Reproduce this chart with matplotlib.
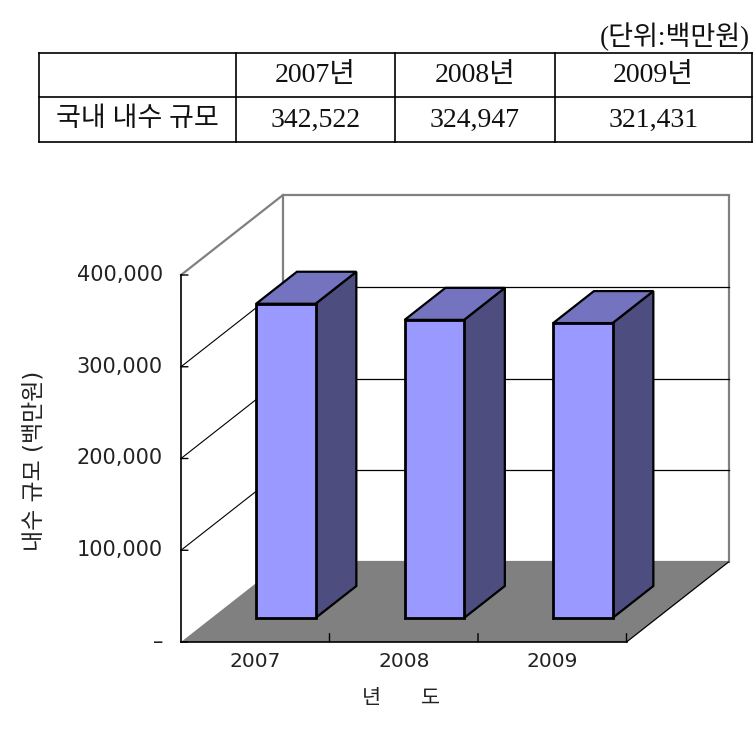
import matplotlib
matplotlib.use("Agg")
import matplotlib.pyplot as plt
from matplotlib.patches import Polygon

plt.rcParams['font.family'] = ['DejaVu Sans', 'Noto Sans CJK KR']

# data
years = ['2007', '2008', '2009']
values = [342522, 324947, 321431]
col_labels = ['2007년', '2008년', '2009년']
row_label = '국내 내수 규모'
unit_label = '(단위:백만원)'
y_ticks = [0, 100000, 200000, 300000, 400000]
y_label = '내수 규모 (백만원)'
x_label = '년      도'

W, H = 753, 734
fig = plt.figure(figsize=(W / 100, H / 100), dpi=100)

# ---- table at the top (pixel layout) ----
tax = fig.add_axes([0, 0, 1, 1])
tax.set_xlim(0, W)
tax.set_ylim(H, 0)
tax.axis('off')
col_x = [39, 236, 395, 555, 752]
row_y = [53, 97, 142]
for yy in row_y:
    tax.plot([col_x[0], col_x[-1]], [yy, yy], color='black', lw=1.2)
for xx in col_x:
    tax.plot([xx, xx], [row_y[0], row_y[-1]], color='black', lw=1.2)
tfont = ['Liberation Serif', 'Noto Sans CJK KR']
for i, lab in enumerate(col_labels):
    cx = (col_x[i + 1] + col_x[i + 2]) / 2
    tax.text(cx, (row_y[0] + row_y[1]) / 2 + 1, lab, ha='center', va='center',
             fontsize=20, family=tfont, color='#111111')
    tax.text(cx, (row_y[1] + row_y[2]) / 2 + 1, f'{values[i]:,}', ha='center', va='center',
             fontsize=20, family=tfont, color='#111111')
tax.text((col_x[0] + col_x[1]) / 2, (row_y[1] + row_y[2]) / 2, row_label, ha='center',
         va='center', fontsize=19.5, family=tfont, color='#111111')
tax.text(750, 37, unit_label, ha='right', va='center', fontsize=19.5, family=tfont,
         color='#111111')

# ---- pseudo 3D bar chart ----
ax = fig.add_axes([0, 0, 1, 1])
ax.axis('off')
x0_px, y0_px = 181, 642        # front origin in pixels
px_cat = 148.5                 # pixels per category
px_val = (642 - 275) / 400000  # pixels per value unit
ax.set_xlim(-x0_px / px_cat, (W - x0_px) / px_cat)
ax.set_ylim(-(H - y0_px) / px_val, y0_px / px_val)
DX = 102 / px_cat   # full depth shift
DY = 80 / px_val
ncat = len(years)
vmax = y_ticks[-1]


def proj(x, v, d):
    return (x + d * DX, v + d * DY)


# back wall
wall = Polygon([proj(0, 0, 1), proj(ncat, 0, 1), proj(ncat, vmax, 1), proj(0, vmax, 1)],
               closed=True, facecolor='white', edgecolor='#808080', lw=1.6, zorder=1)
ax.add_patch(wall)
# gridlines on back and side wall
for v in y_ticks[1:-1]:
    a, b = proj(0, v, 1), proj(ncat, v, 1)
    ax.plot([a[0], b[0]], [a[1], b[1]], color='black', lw=0.9, zorder=2)
    c = proj(0, v, 0)
    ax.plot([c[0], a[0]], [c[1], a[1]], color='black', lw=0.8, zorder=2)
c, a = proj(0, vmax, 0), proj(0, vmax, 1)
ax.plot([c[0], a[0]], [c[1], a[1]], color='#808080', lw=1.6, zorder=2)

# floor
floor = Polygon([proj(0, 0, 0), proj(ncat, 0, 0), proj(ncat, 0, 1), proj(0, 0, 1)],
                closed=True, facecolor='#808080', edgecolor='none', zorder=3)
ax.add_patch(floor)
a, b = proj(ncat, 0, 0), proj(ncat, 0, 1)
ax.plot([a[0], b[0]], [a[1], b[1]], color='black', lw=0.9, zorder=4)
ax.plot([0, ncat], [0, 0], color='black', lw=1.2, zorder=4)

# value axis
ax.plot([0, 0], [0, vmax], color='black', lw=1.2, zorder=4)
for v in y_ticks:
    ax.annotate('', xy=(0, v), xytext=(5, 0), textcoords='offset points',
                arrowprops=dict(arrowstyle='-', color='black', lw=1.0,
                                shrinkA=0, shrinkB=0))
    lab = '–' if v == 0 else f'{v:,}'
    ax.annotate(lab, xy=(0, v), xytext=(-13, 0), textcoords='offset points',
                ha='right', va='center', fontsize=15, color='#222222')

# category ticks and labels
for i in range(1, ncat + 1):
    ax.annotate('', xy=(i, 0), xytext=(0, 6), textcoords='offset points',
                arrowprops=dict(arrowstyle='-', color='black', lw=1.0,
                                shrinkA=0, shrinkB=0), zorder=5)
for i, yr in enumerate(years):
    ax.annotate(yr, xy=(i + 0.5, 0), xytext=(0, -14), textcoords='offset points',
                ha='center', va='center', fontsize=14.5, color='#222222')

# bars
bw = 0.4
d0, d1 = 0.3, 0.7
for i, v in enumerate(values):
    xl = i + 0.5 - bw / 2
    xr = i + 0.5 + bw / 2
    side = Polygon([proj(xr, 0, d0), proj(xr, 0, d1), proj(xr, v, d1), proj(xr, v, d0)],
                   closed=True, facecolor='#4D4D80', edgecolor='black', lw=1.6,
                   joinstyle='miter', zorder=6)
    top = Polygon([proj(xl, v, d0), proj(xr, v, d0), proj(xr, v, d1), proj(xl, v, d1)],
                  closed=True, facecolor='#7373BF', edgecolor='black', lw=1.6,
                  joinstyle='miter', zorder=6)
    front = Polygon([proj(xl, 0, d0), proj(xr, 0, d0), proj(xr, v, d0), proj(xl, v, d0)],
                    closed=True, facecolor='#9999FF', edgecolor='black', lw=2.0,
                    joinstyle='miter', zorder=7)
    ax.add_patch(side)
    ax.add_patch(top)
    ax.add_patch(front)

# axis titles
ax.annotate(y_label, xy=(0, vmax / 2), xytext=(-106, -2), textcoords='offset points',
            rotation=90, ha='center', va='center', fontsize=16.5, color='#222222')
ax.annotate(x_label, xy=(ncat / 2, 0), xytext=(-2, -40), textcoords='offset points',
            ha='center', va='center', fontsize=15, color='#222222')

fig.savefig('out.png', dpi=100)
